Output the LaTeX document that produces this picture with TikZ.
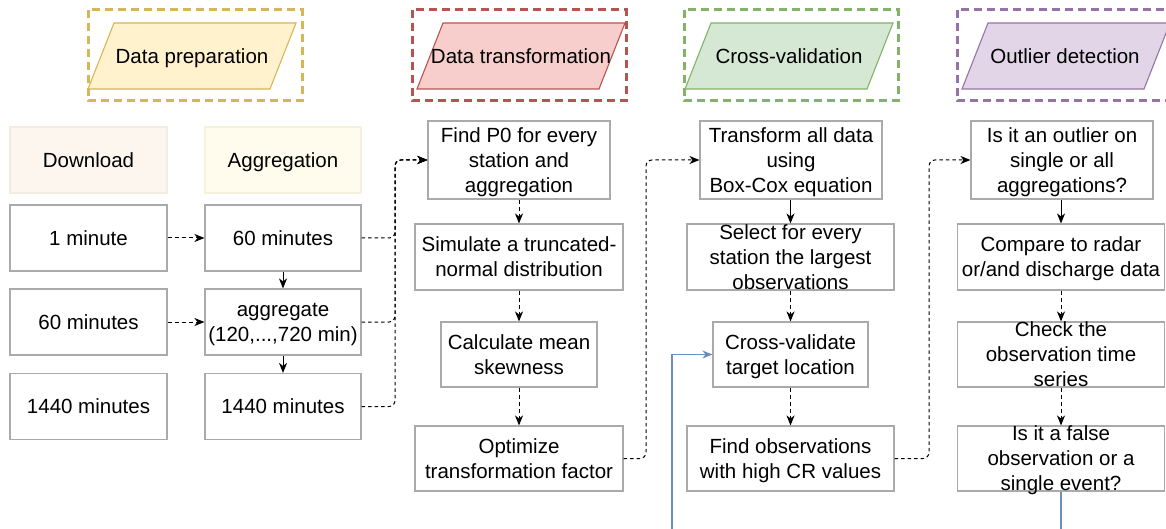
\documentclass[tikz,border=0pt]{standalone}
\usepackage{fontspec}
\setmainfont{Liberation Sans}
\usetikzlibrary{arrows.meta}
\definecolor{boxgray}{RGB}{170,170,170}
\definecolor{yfill}{RGB}{255,242,204}
\definecolor{ydraw}{RGB}{214,182,86}
\definecolor{rfill}{RGB}{248,206,204}
\definecolor{rdraw}{RGB}{184,84,80}
\definecolor{gfill}{RGB}{213,232,212}
\definecolor{gdraw}{RGB}{130,179,102}
\definecolor{pfill}{RGB}{225,213,231}
\definecolor{pdraw}{RGB}{150,115,166}
\definecolor{dlfill}{RGB}{253,246,239}
\definecolor{dldraw}{RGB}{244,235,226}
\definecolor{agfill}{RGB}{255,252,237}
\definecolor{agdraw}{RGB}{245,241,220}
\definecolor{bluec}{RGB}{108,142,191}
\newcommand\dfont{\fontsize{20.5pt}{25pt}\selectfont}
\newcommand\ls{\rule[-5pt]{0pt}{24.7pt}}
\begin{document}
\begin{tikzpicture}[x=1pt,y=-1pt,
  box/.style={draw=boxgray, line width=1.1pt, fill=white, inner sep=0pt},
  txt/.style={font=\dfont, align=center, inner sep=0pt},
  frame/.style={line width=3pt, dash pattern=on 8pt off 5pt},
  para/.style={line width=1.1pt, line join=miter},
  tip/.style={-{Stealth[length=10pt,width=8pt,inset=3pt]}},
  dconn/.style={tip, line width=1pt, dash pattern=on 4pt off 3pt},
  sconn/.style={tip, line width=1pt},
  econn/.style={tip, line width=1pt, dash pattern=on 3.5pt off 3pt, rounded corners=6pt},
  bconn/.style={tip, draw=bluec, line width=1.3pt},
]
\useasboundingbox (0,0) rectangle (1166,529);
\clip (0,0) rectangle (1166,529);

% header frames
\draw[frame, draw=ydraw] (88,10) rectangle (302,101);
\draw[frame, draw=rdraw] (412,10) rectangle (626,101);
\draw[frame, draw=gdraw] (684,10) rectangle (898,101);
\draw[frame, draw=pdraw] (957,10) rectangle (1171,101);

% header parallelograms
\draw[para, draw=ydraw, fill=yfill] (88,89) -- (114,23) -- (296,23) -- (270,89) -- cycle;
\draw[para, draw=rdraw, fill=rfill] (417,89) -- (443,23) -- (625,23) -- (599,89) -- cycle;
\draw[para, draw=gdraw, fill=gfill] (685,89) -- (711,23) -- (893,23) -- (867,89) -- cycle;
\draw[para, draw=pdraw, fill=pfill] (962,89) -- (988,23) -- (1170,23) -- (1144,89) -- cycle;
\node[txt] (hprep) at (192,56) {\ls Data preparation\ls};
\node[txt] (htrans) at (521,56) {\ls Data transformation\ls};
\node[txt] (hcv) at (789,56) {\ls Cross-validation\ls};
\node[txt] (hout) at (1065,56) {\ls Outlier detection\ls};

% column headers
\node[box, draw=dldraw, fill=dlfill, minimum width=157pt, minimum height=66pt] (dl) at (88.5,160) {};
\node[txt] (dl-t) at (dl) {\ls Download\ls};
\node[box, draw=agdraw, fill=agfill, minimum width=156pt, minimum height=66pt] (ag) at (283,160) {};
\node[txt] (ag-t) at (ag) {\ls Aggregation\ls};

% left columns
\node[box, minimum width=157pt, minimum height=66pt] (one) at (88.5,238) {};
\node[txt] (one-t) at (one) {\ls 1 minute\ls};
\node[box, minimum width=157pt, minimum height=66pt] (sixL) at (88.5,322) {};
\node[txt] (sixL-t) at (sixL) {\ls 60 minutes\ls};
\node[box, minimum width=157pt, minimum height=66pt] (dayL) at (88.5,406.5) {};
\node[txt] (dayL-t) at (dayL) {\ls 1440 minutes\ls};
\node[box, minimum width=156pt, minimum height=66pt] (sixR) at (283,238) {};
\node[txt] (sixR-t) at (sixR) {\ls 60 minutes\ls};
\node[box, minimum width=156pt, minimum height=66pt] (aggr) at (283,322) {};
\node[txt] (aggr-t) at (aggr) {\ls aggregate\\(120,...,720 min)\ls};
\node[box, minimum width=156pt, minimum height=66pt] (dayR) at (283,406.5) {};
\node[txt] (dayR-t) at (dayR) {\ls 1440 minutes\ls};

% transformation column
\node[box, minimum width=182pt, minimum height=78pt] (findp) at (519,160) {};
\node[txt] (findp-t) at (findp) {\ls Find P0 for every\\station and\\aggregation\ls};
\node[box, minimum width=208pt, minimum height=66pt] (simul) at (519,257) {};
\node[txt] (simul-t) at (simul) {\ls Simulate a truncated-\\normal distribution\ls};
\node[box, minimum width=156pt, minimum height=65pt] (calc) at (519,354.5) {};
\node[txt] (calc-t) at (calc) {\ls Calculate mean\\skewness\ls};
\node[box, minimum width=208pt, minimum height=65pt] (optim) at (519,458.5) {};
\node[txt] (optim-t) at (optim) {\ls Optimize\\transformation factor\ls};

% cross-validation column
\node[box, minimum width=182pt, minimum height=78pt] (trans) at (791,160) {};
\node[txt] (trans-t) at (trans) {\ls Transform all data\\using\\Box-Cox equation\ls};
\node[box, minimum width=207pt, minimum height=66pt] (select) at (790.5,257) {};
\node[txt] (select-t) at (select) {\ls Select for every\\station the largest\\observations\ls};
\node[box, minimum width=155pt, minimum height=65pt] (cval) at (790.5,354.5) {};
\node[txt] (cval-t) at (cval) {\ls Cross-validate\\target location\ls};
\node[box, minimum width=207pt, minimum height=65pt] (fobs) at (790.5,458.5) {};
\node[txt] (fobs-t) at (fobs) {\ls Find observations\\with high CR values\ls};

% outlier column
\node[box, minimum width=182pt, minimum height=78pt] (outl) at (1062,160) {};
\node[txt] (outl-t) at (outl) {\ls Is it an outlier on\\single or all\\aggregations?\ls};
\node[box, minimum width=207pt, minimum height=66pt] (comp) at (1061,257) {};
\node[txt] (comp-t) at (comp) {\ls Compare to radar\\or/and discharge data\ls};
\node[box, minimum width=207pt, minimum height=65pt] (check) at (1061,354.5) {};
\node[txt] (check-t) at (check) {\ls Check the\\observation time\\series\ls};
\node[box, minimum width=207pt, minimum height=65pt] (isfalse) at (1061,458.5) {};
\node[txt] (isfalse-t) at (isfalse) {\ls Is it a false\\observation or a\\single event?\ls};

% connectors
\draw[dconn] (one) -- (sixR);
\draw[dconn] (sixL) -- (aggr);
\draw[sconn] (sixR) -- (aggr);
\draw[sconn] (aggr) -- (dayR);

\coordinate (j1) at (395,160);
\coordinate (j2) at (646,160);
\coordinate (j3) at (929,160);
\draw[econn] (sixR.east) -| (j1) -- (findp.west);
\draw[econn] (aggr.east) -| (j1) -- (findp.west);
\draw[econn] (dayR.east) -| (j1) -- (findp.west);
\draw[econn] (optim.east) -| (j2) -- (trans.west);
\draw[econn] (fobs.east) -| (j3) -- (outl.west);

\draw[dconn] (findp.south -| simul.north) -- (simul.north);
\draw[dconn] (simul) -- (calc);
\draw[dconn] (calc) -- (optim);

\draw[sconn] (trans.south -| select.north) -- (select.north);
\draw[dconn] (select) -- (cval);
\draw[dconn] (cval) -- (fobs);

\draw[sconn] (outl.south -| comp.north) -- (comp.north);
\draw[dconn] (comp) -- (check);
\draw[dconn] (check) -- (isfalse);

\coordinate (bl) at (672,575);
\draw[bconn] (isfalse.south) |- (bl) |- (cval.west);
\end{tikzpicture}
\end{document}
